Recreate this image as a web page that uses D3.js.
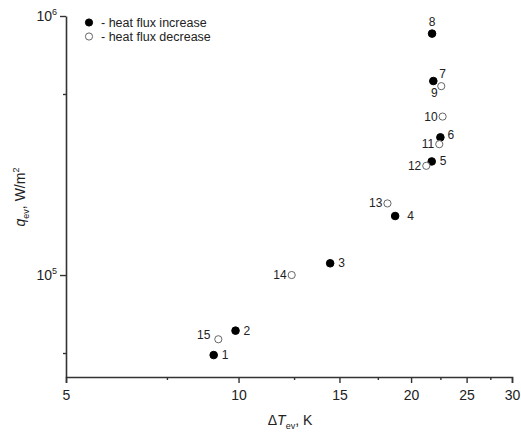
<!DOCTYPE html>
<html>
<head>
<meta charset="utf-8">
<script src="https://cdn.jsdelivr.net/npm/d3@7"></script>
<style>
  body { margin: 0; background: #fff; }
  text { font-family: "Liberation Sans", Arial, sans-serif; fill: #222; }
</style>
</head>
<body>
<svg id="chart" width="521" height="433"></svg>
<script>
// point numbers, dT (K), q (W/m2), filled = heat flux increase
var ids = [1, 2, 3, 4, 5, 6, 7, 8, 9, 10, 11, 12, 13, 14, 15];
var dT = [9.05, 9.88, 14.45, 18.76, 21.73, 22.5, 21.87, 21.76, 22.58, 22.7, 22.4, 21.26, 18.19, 12.38, 9.22];
var q = [49100, 61000, 111000, 169000, 274500, 340000, 561000, 855000, 536000, 409000, 320000, 264000, 189000, 100000, 56500];
var increase = [true, true, true, true, true, true, true, true, false, false, false, false, false, false, false];

var xTicks = [5, 10, 15, 20, 25, 30];
var xMinor = [7.5, 12.5, 17.5, 22.5, 27.5];
var yTicks = [1e5, 1e6];
var yMinor = [5e4, 5e5];

// where each number sits around its marker
var labelSide = ["r", "r", "r", "r4", "r", "rt", "rt2", "t", "bl", "l", "l", "l", "l", "l", "lt"];
var nudge = {
  r: [8, 4, "start"], r4: [12, 4, "start"], rt: [7, 2, "start"], rt2: [6, -3, "start"],
  t: [0, -8, "middle"], bl: [-7, 11, "middle"], l: [-5, 4, "end"], lt: [-8, 0, "end"]
};

var svg = d3.select("#chart");
var x = d3.scaleLog().domain([5, 30]).range([66, 512]);
var y = d3.scaleLog().domain([40400, 1e6]).range([377, 16]);

var axisColor = "#333";

// x axis
var gx = svg.append("g").attr("transform", "translate(0,377)");
gx.call(d3.axisBottom(x).tickValues(xTicks).tickFormat(d3.format("d")).tickSize(6).tickPadding(7));
gx.append("g").call(d3.axisBottom(x).tickValues(xMinor).tickFormat("").tickSize(3));
gx.selectAll(".domain").attr("stroke", axisColor).attr("stroke-width", 1.6);
gx.selectAll(".tick line").attr("stroke", axisColor).attr("stroke-width", 1.4);
gx.selectAll("g > g > .domain").remove();
gx.selectAll(".tick text").attr("font-size", 14).attr("fill", "#222").attr("font-family", "Liberation Sans, Arial, sans-serif");

// y axis
var gy = svg.append("g").attr("transform", "translate(66,0)");
gy.call(d3.axisLeft(y).tickValues(yTicks).tickFormat("").tickSize(6).tickSizeOuter(0));
gy.append("g").call(d3.axisLeft(y).tickValues(yMinor).tickFormat("").tickSize(3));
gy.selectAll(".domain").attr("stroke", axisColor).attr("stroke-width", 1.6);
gy.selectAll("g > g > .domain").remove();
gy.selectAll(".tick line").attr("stroke", axisColor).attr("stroke-width", 1.4);

yTicks.forEach(function (v) {
  var t = gy.append("text").attr("x", -9).attr("y", y(v) + 5)
    .attr("text-anchor", "end").attr("font-size", 14);
  t.append("tspan").text("10");
  t.append("tspan").attr("dy", -6).attr("font-size", 9).text(Math.round(Math.log10(v)));
});

// axis titles
var xt = svg.append("text").attr("x", 290).attr("y", 425).attr("text-anchor", "middle").attr("font-size", 14);
xt.append("tspan").text("\u0394");
xt.append("tspan").attr("font-style", "italic").text("T");
xt.append("tspan").attr("dy", 4).attr("font-size", 9).text("ev");
xt.append("tspan").attr("dy", -4).text(", K");

var yt = svg.append("text").attr("transform", "translate(25,197) rotate(-90)")
  .attr("text-anchor", "middle").attr("font-size", 14);
yt.append("tspan").attr("font-style", "italic").text("q");
yt.append("tspan").attr("dy", 4).attr("font-size", 9).text("ev");
yt.append("tspan").attr("dy", -4).text(", W/m");
yt.append("tspan").attr("dy", -6).attr("font-size", 9).text("2");

// points
var pts = ids.map(function (id, i) {
  return { id: id, dT: dT[i], q: q[i], inc: increase[i], side: labelSide[i] };
});

svg.append("g").selectAll("circle").data(pts).enter().append("circle")
  .attr("cx", function (d) { return x(d.dT); })
  .attr("cy", function (d) { return y(d.q); })
  .attr("r", function (d) { return d.inc ? 3.8 : 3.6; })
  .attr("fill", function (d) { return d.inc ? "#000" : "#fff"; })
  .attr("stroke", function (d) { return d.inc ? "#000" : "#666"; })
  .attr("stroke-width", 1);

svg.append("g").selectAll("text").data(pts).enter().append("text")
  .attr("x", function (d) { return x(d.dT) + nudge[d.side][0]; })
  .attr("y", function (d) { return y(d.q) + nudge[d.side][1]; })
  .attr("text-anchor", function (d) { return nudge[d.side][2]; })
  .attr("font-size", 12).attr("fill", "#333")
  .text(function (d) { return d.id; });

// legend
var legend = [
  { label: "- heat flux increase", inc: true },
  { label: "- heat flux decrease", inc: false }
];
var lg = svg.append("g").selectAll("g").data(legend).enter().append("g")
  .attr("transform", function (d, i) { return "translate(89," + (22.5 + i * 14) + ")"; });
lg.append("circle").attr("r", 3.6)
  .attr("fill", function (d) { return d.inc ? "#000" : "#fff"; })
  .attr("stroke", function (d) { return d.inc ? "#000" : "#666"; });
lg.append("text").attr("x", 12).attr("y", 4.5).attr("font-size", 12.5).attr("fill", "#333")
  .text(function (d) { return d.label; });
</script>
</body>
</html>
